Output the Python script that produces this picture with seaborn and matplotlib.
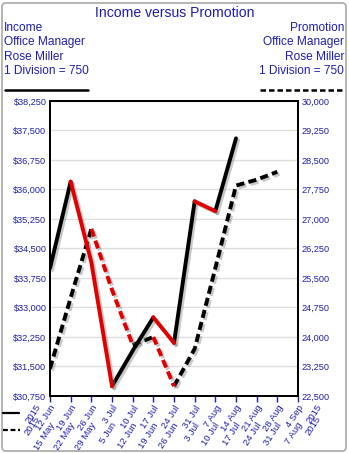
import numpy as np
import pandas as pd
import matplotlib
matplotlib.use("Agg")
import matplotlib.pyplot as plt
import matplotlib.patheffects as pe
import matplotlib.transforms as mtransforms
from matplotlib.patches import FancyBboxPatch
from matplotlib.lines import Line2D
import seaborn as sns

# ---- data -------------------------------------------------------------
income_weeks = ["12 Jun", "19 Jun", "26 Jun", "3 Jul", "10 Jul", "17 Jul", "24 Jul",
                "31 Jul", "7 Aug", "14 Aug", "21 Aug", "28 Aug", "4 Sep"]
promotion_weeks = ["15 May", "22 May", "29 May", "5 Jun", "12 Jun", "19 Jun", "26 Jun",
                   "3 Jul", "10 Jul", "17 Jul", "24 Jul", "31 Jul", "7 Aug"]
income = [34000, 36200, 34150, 31000, 31900, 32750, 32100, 35700, 35450, 37300]
promotion = [23200, 25000, 26750, 25200, 23800, 24000, 22750, 23700, 25750,
             27850, 28000, 28200]
income_ticks = [30750, 31500, 32250, 33000, 33750, 34500, 35250, 36000, 36750, 37500, 38250]
promotion_ticks = [22500, 23250, 24000, 24750, 25500, 26250, 27000, 27750, 28500, 29250, 30000]
header_left = ["Income", "Office Manager", "Rose Miller", "1 Division = 750"]
header_right = ["Promotion", "Office Manager", "Rose Miller", "1 Division = 750"]
year = "2015"

TXT = "#1e1eaa"
W, H = 349, 453
ROT = 57
LBL = 6.8

sns.set_theme(style="white")
plt.rcParams["font.family"] = ["Liberation Sans", "DejaVu Sans"]


def runs(values):
    """Split a series into runs of rising / falling segments."""
    rows = []
    seg = 0
    prev = None
    for i in range(1, len(values)):
        trend = "up" if values[i] >= values[i - 1] else "down"
        if trend != prev:
            seg += 1
            rows.append({"seg": seg, "x": i - 1, "value": values[i - 1], "trend": trend})
        rows.append({"seg": seg, "x": i, "value": values[i], "trend": trend})
        prev = trend
    return pd.DataFrame(rows)


fig = plt.figure(figsize=(W / 100, H / 100), dpi=100)
fig.patch.set_facecolor("white")

# outer frame
fig.patches.append(FancyBboxPatch((2 / W, 2 / H), 1 - 5 / W, 1 - 5 / H,
                                  boxstyle="round,pad=0,rounding_size=0.01",
                                  transform=fig.transFigure, fill=False,
                                  edgecolor="#a8a8a8", linewidth=1.2))

ax = fig.add_axes([50 / W, 1 - 396 / H, 248 / W, 295 / H])
ax2 = ax.twinx()
ax.set_zorder(ax2.get_zorder() + 1)
ax.patch.set_visible(False)

ax.set_xlim(0, 12)
ax.set_ylim(income_ticks[0], income_ticks[-1])
ax2.set_ylim(promotion_ticks[0], promotion_ticks[-1])

# grid drawn on the lower axes so the lines sit above it
ax2.set_xticks(range(13))
ax2.set_yticks(promotion_ticks)
ax2.grid(True, color="#dedede", linewidth=1.0)
ax.grid(False)

shadow = [pe.SimpleLineShadow(offset=(1.5, -1.5), shadow_color="#888888", alpha=0.45),
          pe.Normal()]
palette = {"up": "black", "down": "#e00000"}

sns.lineplot(data=runs(promotion), x="x", y="value", hue="trend", units="seg",
             estimator=None, sort=False, palette=palette, legend=False, ax=ax2,
             linewidth=2.8, path_effects=shadow, dash_capstyle="butt")
for ln in ax2.get_lines():
    ln.set_linestyle((0, (2.1, 1.1)))

sns.lineplot(data=runs(income), x="x", y="value", hue="trend", units="seg",
             estimator=None, sort=False, palette=palette, legend=False, ax=ax,
             linewidth=2.8, path_effects=shadow, solid_capstyle="round",
             solid_joinstyle="round")

for a in (ax, ax2):
    a.set_xlabel("")
    a.set_ylabel("")

ax.set_yticks(income_ticks)
ax.set_yticklabels([f"${v:,}" for v in income_ticks])
ax2.set_yticklabels([f"{v:,}" for v in promotion_ticks])

# first row of dates: income weeks as the tick labels
ax.set_xticks(range(13))
ax.set_xticklabels(income_weeks, rotation=ROT, ha="right", va="top",
                   rotation_mode="anchor")
ax2.tick_params(axis="x", bottom=False, labelbottom=False)

ax.tick_params(axis="x", bottom=True, length=4, width=1, color=TXT, direction="out",
               labelsize=LBL, labelcolor=TXT, pad=1.5)
ax.tick_params(axis="y", left=False, length=0, labelsize=6.6, labelcolor=TXT, pad=2.5)
ax2.tick_params(axis="y", right=False, length=0, labelsize=6.6, labelcolor=TXT, pad=2.5)

for a in (ax, ax2):
    for s in a.spines.values():
        s.set_color("black")
        s.set_linewidth(1.4)

xaxis_tr = ax.get_xaxis_transform()
row1 = mtransforms.offset_copy(xaxis_tr, fig=fig, x=0, y=-6, units="dots")
row2 = mtransforms.offset_copy(xaxis_tr, fig=fig, x=-1, y=-25, units="dots")
row2y = mtransforms.offset_copy(xaxis_tr, fig=fig, x=-1, y=-18, units="dots")

# second row of dates: promotion weeks
for i, lab in enumerate(promotion_weeks):
    ax.text(i, 0, lab, transform=row2, rotation=ROT, ha="right", va="top",
            rotation_mode="anchor", fontsize=LBL, color=TXT, clip_on=False)

# year labels before the first and after the last week, for both rows
for xpos in (-0.72, 12.9):
    for tr in (row1, row2y):
        ax.text(xpos, 0, year, transform=tr, rotation=ROT, ha="right", va="top",
                rotation_mode="anchor", fontsize=LBL, color=TXT, clip_on=False)

# header texts
fig.text(175 / W, 1 - 13 / H, "Income versus Promotion", ha="center", va="center",
         fontsize=10.1, color=TXT)
for i, (l, r) in enumerate(zip(header_left, header_right)):
    y = 1 - (28 + i * 14.5) / H
    fig.text(4 / W, y, l, ha="left", va="center", fontsize=8.6, color=TXT)
    fig.text(344 / W, y, r, ha="right", va="center", fontsize=8.6, color=TXT)

# series keys
fig.add_artist(Line2D([5 / W, 88 / W], [1 - 90 / H] * 2, transform=fig.transFigure,
                      color="black", linewidth=1.8))
fig.add_artist(Line2D([260 / W, 344 / W], [1 - 90 / H] * 2, transform=fig.transFigure,
                      color="black", linewidth=1.8, linestyle=(0, (2.2, 1.2))))
fig.add_artist(Line2D([3 / W, 19 / W], [1 - 413 / H] * 2, transform=fig.transFigure,
                      color="black", linewidth=1.6))
fig.add_artist(Line2D([3 / W, 20 / W], [1 - 430 / H] * 2, transform=fig.transFigure,
                      color="black", linewidth=1.6, linestyle=(0, (2.2, 1.2))))

fig.savefig("out.png", dpi=100)
